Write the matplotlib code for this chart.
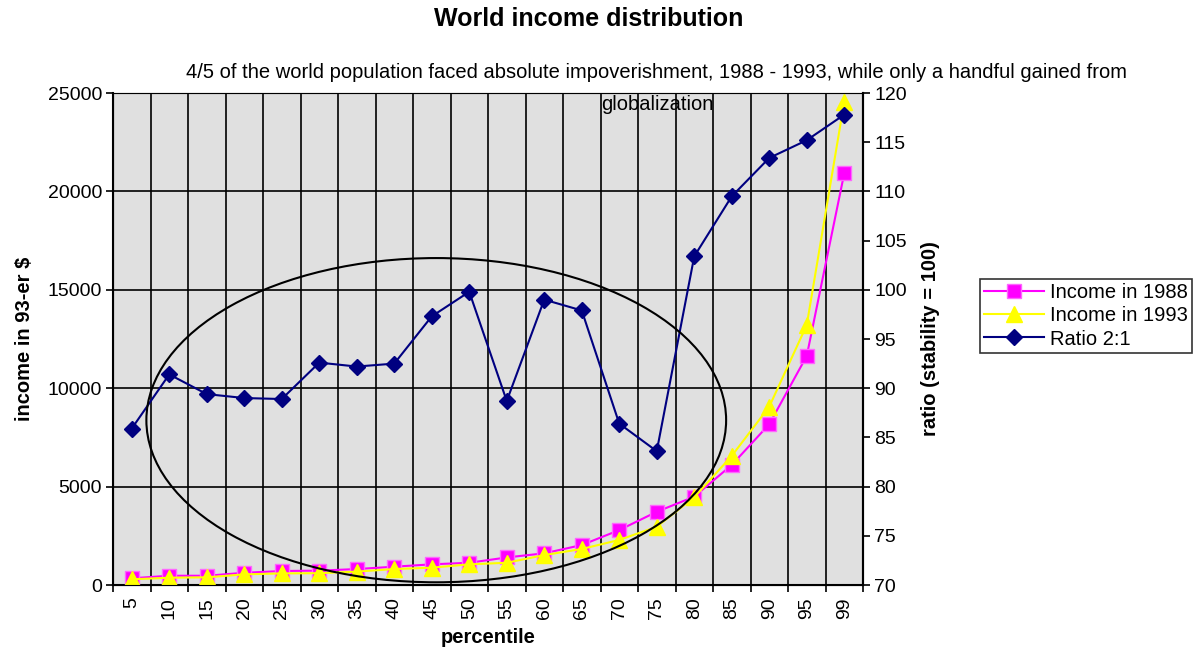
import matplotlib.pyplot as plt
from matplotlib.patches import Ellipse
import numpy as np

plt.rcParams['font.family'] = ['Liberation Sans', 'DejaVu Sans']

percentiles = ["5", "10", "15", "20", "25", "30", "35", "40", "45", "50", "55",
               "60", "65", "70", "75", "80", "85", "90", "95", "99"]
income_1988 = [340, 470, 470, 620, 710, 730, 810, 930, 1050, 1130, 1400,
               1610, 2030, 2790, 3720, 4490, 6100, 8170, 11640, 20920]
income_1993 = [290, 370, 390, 540, 590, 600, 680, 810, 880, 1050, 1130,
               1520, 1830, 2290, 2960, 4460, 6560, 9060, 13210, 24560]
ratio = [85.9, 91.4, 89.4, 89.0, 88.9, 92.6, 92.2, 92.5, 97.3, 99.8, 88.7,
         99.0, 97.9, 86.4, 83.6, 103.4, 109.5, 113.4, 115.2, 117.8]

fig = plt.figure(figsize=(11.96, 6.58), dpi=100)
ax = fig.add_axes([113 / 1196, 1 - 585 / 658, 750 / 1196, 492 / 658])
ax.set_facecolor('#e0e0e0')

x = np.arange(len(percentiles))
l1, = ax.plot(x, income_1988, color='#ff00ff', marker='s', ms=10, mfc='#ff00ff',
              mec='#ff66ff', lw=1.5, label='Income in 1988', zorder=3)
l2, = ax.plot(x, income_1993, color='#ffff00', marker='^', ms=11, lw=1.5,
              label='Income in 1993', zorder=4)

ax.set_xlim(-0.5, len(percentiles) - 0.5)
ax.set_ylim(0, 25000)
ax.set_yticks(range(0, 25001, 5000))
ax.set_xticks(x)
ax.set_xticklabels(percentiles, rotation=90, fontsize=14)
ax.set_xticks(np.arange(-0.5, len(percentiles), 1), minor=True)
ax.tick_params(axis='x', which='major', length=0, pad=9)
ax.tick_params(axis='x', which='minor', length=5, width=1.2, direction='out')
ax.tick_params(axis='y', labelsize=14, length=5, width=1.2, direction='out', pad=3)
ax.grid(True, axis='y', color='black', lw=1.2)
ax.grid(True, axis='x', which='minor', color='black', lw=1.2)
ax.set_axisbelow(True)
for s in ['left', 'bottom', 'right']:
    ax.spines[s].set_linewidth(1.5)
ax.spines['top'].set_color('#808080')

ax.set_ylabel('income in 93-er $', fontsize=14.5, fontweight='bold', labelpad=10)
ax.set_xlabel('percentile', fontsize=14.5, fontweight='bold', labelpad=6)

ax2 = ax.twinx()
l3, = ax2.plot(x, ratio, color='#000080', marker='D', ms=8, lw=1.5,
               label='Ratio 2:1', zorder=5)
ax2.set_ylim(70, 120)
ax2.set_yticks(range(70, 121, 5))
ax2.tick_params(axis='y', labelsize=14, length=5, width=1.2, direction='out', pad=3)
ax2.set_ylabel('ratio (stability = 100)', fontsize=14.5, fontweight='bold', labelpad=10)
ax2.spines['right'].set_linewidth(1.5)

ax2.add_patch(Ellipse((0.431, 0.335), 0.773, 0.659, transform=ax.transAxes,
                      fill=False, edgecolor='black', lw=1.5, zorder=6))

fig.text(589 / 1196, 1 - 19 / 658, 'World income distribution', ha='center', va='center',
         fontsize=18, fontweight='bold')
fig.text(656 / 1196, 1 - 73 / 658,
         '4/5 of the world population faced absolute impoverishment, 1988 - 1993, while only a handful gained from',
         ha='center', va='center', fontsize=14.5)
fig.text(657 / 1196, 1 - 105 / 658, 'globalization', ha='center', va='center',
         fontsize=14.5, zorder=10)

leg = fig.legend([l1, l2, l3], ['Income in 1988', 'Income in 1993', 'Ratio 2:1'],
                 loc='center left', bbox_to_anchor=(980 / 1196, 1 - 316 / 658),
                 fontsize=14.5, frameon=True, fancybox=False, edgecolor='black',
                 handlelength=3.0, borderpad=0.2, labelspacing=0.2, handletextpad=0.3,
                 borderaxespad=0)
leg.get_frame().set_linewidth(1.2)

fig.savefig('out.png', dpi=100)
